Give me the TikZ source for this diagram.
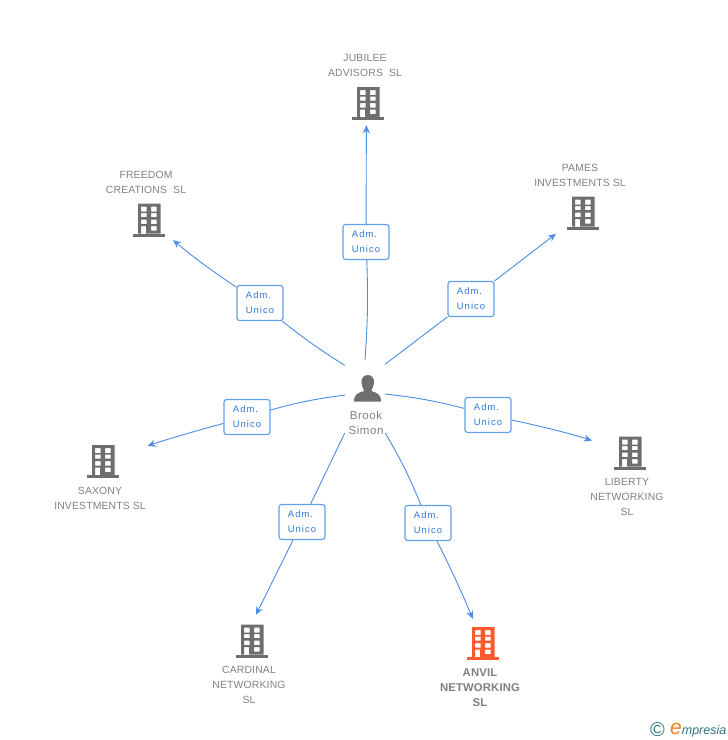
\documentclass[tikz,border=0pt]{standalone}
\usepackage{xcolor}
\usepackage{fontspec}
\setmainfont{Liberation Sans}
\newfontfamily\admfont[LetterSpace=11]{Liberation Sans}
\newfontfamily\txtfont[LetterSpace=1.5]{Liberation Sans}
\newfontfamily\hubfont[LetterSpace=5]{Liberation Sans}
\usepackage{tikz}
\usetikzlibrary{arrows.meta,positioning}

\definecolor{linkblue}{HTML}{4A8CE6}
\definecolor{admblue}{HTML}{2F78DC}
\definecolor{boxblue}{HTML}{629EEA}
\definecolor{icongray}{HTML}{6E6E6E}
\definecolor{txtgray}{HTML}{808080}
\definecolor{anvilred}{HTML}{FF5A2E}
\definecolor{logoteal}{HTML}{2F7385}
\definecolor{logoorange}{HTML}{F0821E}

% building drawn inside a node, windows are holes
\newcommand{\buildingicon}[1]{%
  \begin{scope}[shift={(path picture bounding box.center)}]
    \fill[#1, even odd rule] (-11,-16.5) rectangle (11.5,13.5)
      (-8,-13.5) rectangle (-2.5,-8.5) (2,-13.5) rectangle (7.5,-8.5)
      (-8,-6.8) rectangle (-2.5,-2.8) (2,-6.8) rectangle (7.5,-2.8)
      (-8,-0.5) rectangle (-2.5,4.2) (2,-0.5) rectangle (7.5,4.2)
      (-8,6) rectangle (-3,13.5) (2,6) rectangle (7.5,10.5);
    \fill[#1] (-16,13.5) rectangle (16,16.5);
  \end{scope}}

\begin{document}
\begin{tikzpicture}[x=1pt, y=-1pt,
    bld/.style={inner sep=0pt, minimum width=34pt, minimum height=36pt,
      path picture={\buildingicon{#1}}},
    hub/.style={rectangle, inner sep=0pt, minimum width=40pt, minimum height=73pt},
    adm/.style={rectangle, draw=boxblue, line width=1.1pt, rounded corners=2.5pt, fill=white,
      minimum width=46pt, minimum height=35pt, inner sep=0pt, align=center,
      text=admblue, font=\admfont\fontsize{9.4}{15}\selectfont},
    co/.style={align=center, inner sep=0pt, text=txtgray,
      font=\txtfont\fontsize{10.4}{15}\selectfont},
    seg/.style={linkblue, line width=0.9pt},
    arrow/.style={seg, -{Stealth[length=8pt, width=7pt]}}]

    \useasboundingbox (0,0) rectangle (728,740);

    % centre
    \node[hub] (brook) at (365,396.5) {};
    \node[inner sep=0pt, minimum width=30pt, minimum height=24pt] (brookicon) at (367.5,389) {};
    \fill[icongray] (354,401.7) .. controls (354,394) and (358,393) .. (364,391)
      .. controls (364,389) and (362,387) .. (361.5,383)
      .. controls (361,378) and (364,375) .. (367.7,375)
      .. controls (371.5,375) and (374.5,378) .. (374,383)
      .. controls (373.5,387) and (371.5,389) .. (371.5,391)
      .. controls (377,393) and (381,394) .. (381,401.7) -- cycle;
    \node[co, font=\hubfont\fontsize{11.5}{15}\selectfont] (brooktxt) at (366,423) {Brook\\Simon};

    % companies
    \node[bld=icongray] (jubilee) at (368,103.5) {};
    \node[bld=icongray] (freedom) at (149,220) {};
    \node[bld=icongray] (pames) at (583,213) {};
    \node[bld=icongray] (saxony) at (103,461.5) {};
    \node[bld=icongray] (liberty) at (630,453) {};
    \node[bld=icongray] (cardinal) at (252,641) {};
    \node[bld=anvilred] (anvil) at (483,643.5) {};

    \node[co] (jubileetxt) at (365,65) {JUBILEE\\ADVISORS\ \ SL};
    \node[co] (freedomtxt) at (146,182) {FREEDOM\\CREATIONS\ \ SL};
    \node[co] (pamestxt) at (580,175) {PAMES\\INVESTMENTS SL};
    \node[co] (saxonytxt) at (100,498) {SAXONY\\INVESTMENTS SL};
    \node[co] (libertytxt) at (627,497) {LIBERTY\\NETWORKING\\SL};
    \node[co] (cardinaltxt) at (249,685) {CARDINAL\\NETWORKING\\SL};
    \node[co, font=\txtfont\bfseries\fontsize{11.3}{15}\selectfont] (anviltxt) at (480,688) {ANVIL\\NETWORKING\\SL};

    % position boxes
    \node[adm] (admjubilee) at (366,242) {Adm.\hspace*{3pt}\\Unico};
    \node[adm] (admfreedom) at (260,303) {Adm.\hspace*{3pt}\\Unico};
    \node[adm] (admpames) at (471,299) {Adm.\hspace*{3pt}\\Unico};
    \node[adm] (admsaxony) at (247,417) {Adm.\hspace*{3pt}\\Unico};
    \node[adm] (admliberty) at (488,415) {Adm.\hspace*{3pt}\\Unico};
    \node[adm] (admcardinal) at (302,522) {Adm.\hspace*{3pt}\\Unico};
    \node[adm] (admanvil) at (428,523) {Adm.\hspace*{3pt}\\Unico};

    \draw[seg] (brook.north) to[bend right=3] (admjubilee);
    \draw[arrow, shorten >=3.5pt] (admjubilee) to (jubilee.265);
    \draw[seg] (brook.123) to[bend left=3] (admfreedom);
    \draw[arrow, shorten >=9pt] (admfreedom) to[bend left=3] (freedom);
    \draw[seg] (brook.58) to (admpames);
    \draw[arrow, shorten >=12.5pt] (admpames) to (pames);
    \draw[seg] (brook.176) to[bend right=4] (admsaxony);
    \draw[arrow, shorten >=29pt] (admsaxony) to[bend right=2] (saxony);
    \draw[seg] (brook.7) to[bend left=4] (admliberty);
    \draw[arrow, shorten >=22pt] (admliberty) to[bend left=3] (liberty);
    \draw[seg] (brook.241) to (admcardinal);
    \draw[arrow, shorten >=9pt] (admcardinal) to (cardinal.north);
    \draw[seg] (brook.299) to[bend left=4] (admanvil);
    \draw[arrow, shorten >=7pt] (admanvil) to[bend left=2] (anvil);

    % logo
    \node[inner sep=0pt, text=logoteal, font=\fontsize{20}{20}\selectfont] (logocopy) at (657.5,729.5) {\copyright};
    \node[inner sep=0pt, anchor=west, text=logoteal, font=\itshape\fontsize{12.5}{13}\selectfont] (logo) at (670,730)
      {{\color{logoorange}\fontsize{21}{21}\selectfont e}mpresia};
\end{tikzpicture}
\end{document}
